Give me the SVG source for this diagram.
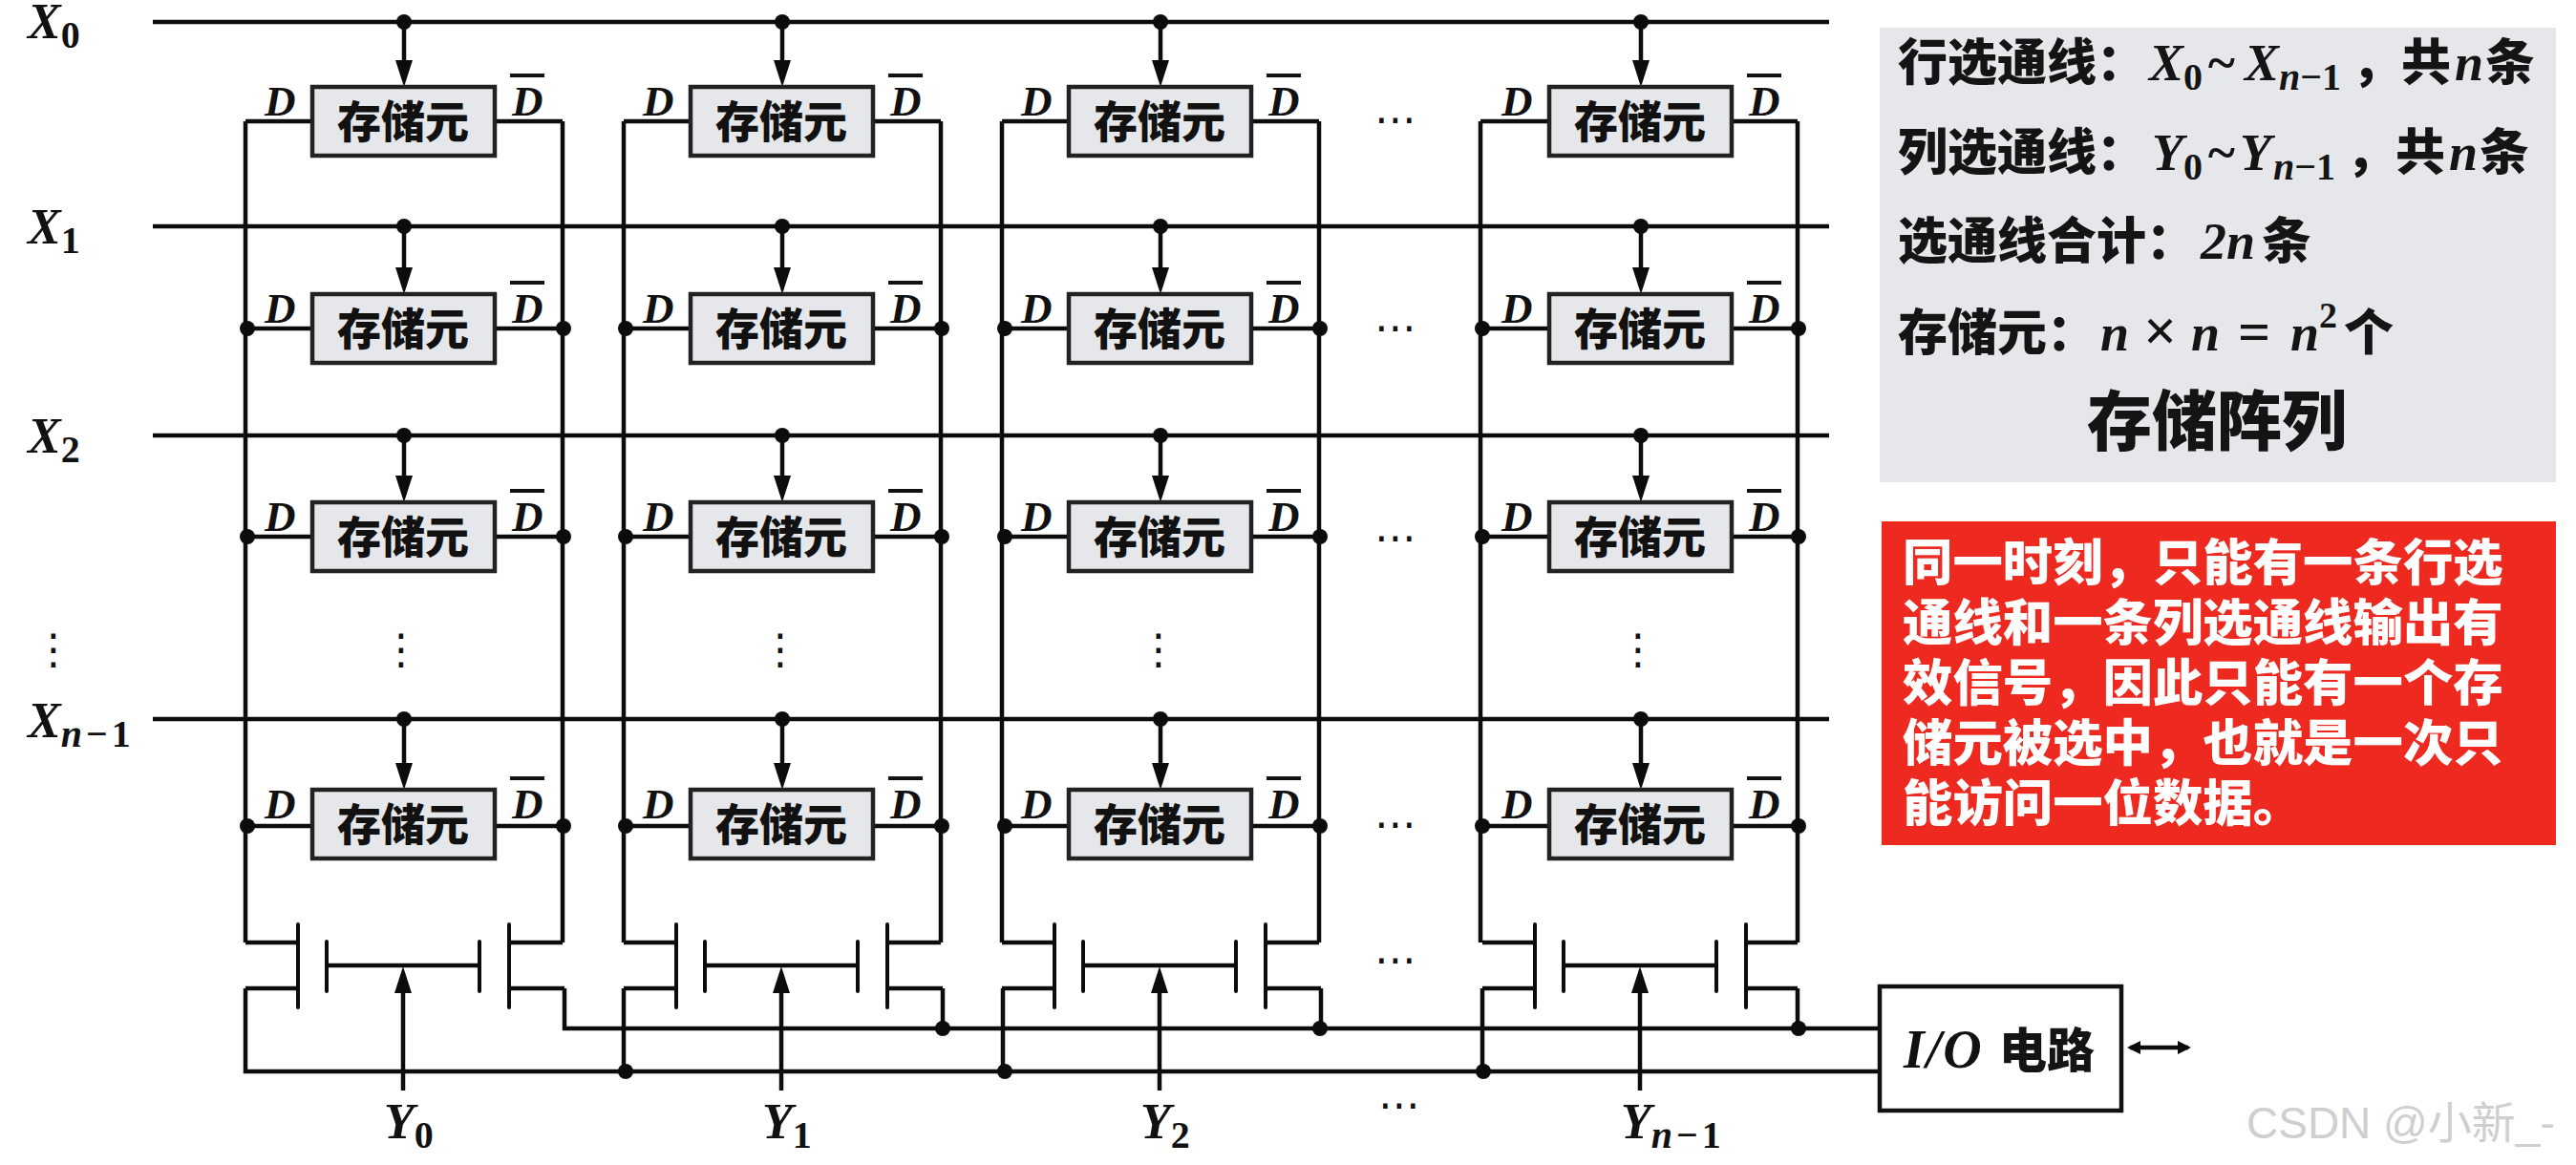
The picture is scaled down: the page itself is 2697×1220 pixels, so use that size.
<svg xmlns="http://www.w3.org/2000/svg" width="2697" height="1220" viewBox="0 0 2697 1220">
<style>
.w{fill:none;stroke:#0c0c0c;stroke-width:4.5}
.t{fill:none;stroke:#0c0c0c;stroke-width:4;stroke-linecap:round}
.cell{fill:#e6e7eb;stroke:#222;stroke-width:4.5}
.ct{font:900 46px "Noto Sans CJK SC",sans-serif;fill:#111;text-anchor:middle}
.m{font-family:"Liberation Serif",serif;font-weight:700;font-style:italic;fill:#111}
.b{font-size:52px}
.s{font-size:40px}
.sn{font-size:40px;letter-spacing:4px}
.u{font-style:normal}
.d{font-size:45px}
.dots{font:44px "DejaVu Sans",sans-serif;fill:#111;text-anchor:middle}
.zh{font:900 52px "Noto Sans CJK SC",sans-serif;fill:#141414}
.q{font-family:"Liberation Serif",serif;font-weight:700;font-style:italic;font-size:54px;fill:#141414}
.red{font:900 52.4px "Noto Sans CJK SC",sans-serif;fill:#fff}
</style>
<defs>
<marker id="a" markerUnits="userSpaceOnUse" markerWidth="28" markerHeight="18" refX="20" refY="9" orient="auto" viewBox="0 0 28 18"><path d="M0 0L28 9L0 18Z" fill="#0c0c0c"/></marker>
<marker id="sa" markerUnits="userSpaceOnUse" markerWidth="14" markerHeight="14" refX="11" refY="7" orient="auto-start-reverse" viewBox="0 0 14 14"><path d="M0 0L14 7L0 14Z" fill="#0c0c0c"/></marker>
<circle id="dot" r="8" fill="#0c0c0c"/>
<g id="cellT">
<rect class="cell" x="327" y="0" width="191" height="72"/>
<text class="ct" x="422" y="53">存储元</text>
<text class="m d" x="277" y="30">D</text>
<text class="m d" x="536" y="30">D</text>
<line x1="534" y1="-12" x2="570" y2="-12" stroke="#111" stroke-width="4"/>
</g>
<g id="xtor">
<path class="t" d="M312 968V1055M342 986V1038M502 986V1038M533 968V1055"/>
<path class="w" d="M342 1011H502M312 987H257M312 1035H257"/>
</g>
<g id="arrows">
<path class="w" d="M423 23V83" marker-end="url(#a)"/>
<path class="w" d="M423 237V300" marker-end="url(#a)"/>
<path class="w" d="M423 456V518" marker-end="url(#a)"/>
<path class="w" d="M423 753V819" marker-end="url(#a)"/>
<path class="w" d="M422 1142V1020" marker-end="url(#a)"/>
</g>
<g id="stubs">
<path class="w" d="M327 127H257M518 127H589M327 344H257M518 344H589M327 562H257M518 562H589M327 865H257M518 865H589"/>
</g>
</defs>
<rect width="2697" height="1220" fill="#fff"/>
<g id="connectors">
<g id="row-lines">
<path class="w" d="M160 23H1915M160 237H1915M160 456H1915M160 753H1915"/>
</g>
<g id="col-0"><path class="w" d="M257 127V987M589 127V987M533 987H589M533 1035H591"/><use href="#stubs"/><use href="#arrows"/><use href="#xtor"/></g>
<g id="col-1" transform="translate(396 0)"><path class="w" d="M257 127V987M589 127V987M533 987H589M533 1035H591"/><use href="#stubs"/><use href="#arrows"/><use href="#xtor"/></g>
<g id="col-2" transform="translate(792 0)"><path class="w" d="M257 127V987M589 127V987M533 987H589M533 1035H591"/><use href="#stubs"/><use href="#arrows"/><use href="#xtor"/></g>
<g id="col-3"><path class="w" d="M1550 127V987M1882 127V987M1828 987H1882M1828 1035H1882"/><use href="#stubs" transform="translate(1293 0)"/><use href="#arrows" transform="translate(1295 0)"/><use href="#xtor" transform="translate(1295 0)"/></g>
<g id="buses">
<path class="w" d="M591 1035V1077H1968M987 1035V1077M1383 1035V1077M1882 1035V1077"/>
<path class="w" d="M257 1035V1122H1968M653 1035V1122M1050 1035V1122M1552 1035V1122"/>
<path class="w" d="M2230 1097H2291" marker-start="url(#sa)" marker-end="url(#sa)"/>
</g>
<g id="junctions">
<use href="#dot" x="423" y="23"/><use href="#dot" x="819" y="23"/><use href="#dot" x="1215" y="23"/><use href="#dot" x="1718" y="23"/>
<use href="#dot" x="423" y="237"/><use href="#dot" x="819" y="237"/><use href="#dot" x="1215" y="237"/><use href="#dot" x="1718" y="237"/>
<use href="#dot" x="423" y="456"/><use href="#dot" x="819" y="456"/><use href="#dot" x="1215" y="456"/><use href="#dot" x="1718" y="456"/>
<use href="#dot" x="423" y="753"/><use href="#dot" x="819" y="753"/><use href="#dot" x="1215" y="753"/><use href="#dot" x="1718" y="753"/>
<g><use href="#dot" x="259" y="344"/><use href="#dot" x="590" y="344"/><use href="#dot" x="655" y="344"/><use href="#dot" x="986" y="344"/><use href="#dot" x="1052" y="344"/><use href="#dot" x="1382" y="344"/><use href="#dot" x="1552" y="344"/><use href="#dot" x="1883" y="344"/></g>
<g><use href="#dot" x="259" y="562"/><use href="#dot" x="590" y="562"/><use href="#dot" x="655" y="562"/><use href="#dot" x="986" y="562"/><use href="#dot" x="1052" y="562"/><use href="#dot" x="1382" y="562"/><use href="#dot" x="1552" y="562"/><use href="#dot" x="1883" y="562"/></g>
<g><use href="#dot" x="259" y="865"/><use href="#dot" x="590" y="865"/><use href="#dot" x="655" y="865"/><use href="#dot" x="986" y="865"/><use href="#dot" x="1052" y="865"/><use href="#dot" x="1382" y="865"/><use href="#dot" x="1552" y="865"/><use href="#dot" x="1883" y="865"/></g>
<use href="#dot" x="987" y="1077"/><use href="#dot" x="1382" y="1077"/><use href="#dot" x="1883" y="1077"/>
<use href="#dot" x="655" y="1122"/><use href="#dot" x="1052" y="1122"/><use href="#dot" x="1553" y="1122"/>
</g>
</g>
<g id="cells">
<g id="cell-0-0"><use href="#cellT" y="91"/></g><g id="cell-1-0"><use href="#cellT" x="396" y="91"/></g><g id="cell-2-0"><use href="#cellT" x="792" y="91"/></g><g id="cell-3-0"><use href="#cellT" x="1295" y="91"/></g>
<g id="cell-0-1"><use href="#cellT" y="308"/></g><g id="cell-1-1"><use href="#cellT" x="396" y="308"/></g><g id="cell-2-1"><use href="#cellT" x="792" y="308"/></g><g id="cell-3-1"><use href="#cellT" x="1295" y="308"/></g>
<g id="cell-0-2"><use href="#cellT" y="526"/></g><g id="cell-1-2"><use href="#cellT" x="396" y="526"/></g><g id="cell-2-2"><use href="#cellT" x="792" y="526"/></g><g id="cell-3-2"><use href="#cellT" x="1295" y="526"/></g>
<g id="cell-0-3"><use href="#cellT" y="827"/></g><g id="cell-1-3"><use href="#cellT" x="396" y="827"/></g><g id="cell-2-3"><use href="#cellT" x="792" y="827"/></g><g id="cell-3-3"><use href="#cellT" x="1295" y="827"/></g>
</g>
<g id="x-labels">
<text class="m b" x="29" y="40">X<tspan class="s u" dy="10">0</tspan></text>
<text class="m b" x="29" y="255">X<tspan class="s u" dy="10">1</tspan></text>
<text class="m b" x="29" y="474">X<tspan class="s u" dy="10">2</tspan></text>
<text class="m b" x="29" y="772">X<tspan class="sn" dy="10">n</tspan><tspan class="sn u">−1</tspan></text>
</g>
<g id="y-labels">
<text class="m b" x="402" y="1192">Y<tspan class="s u" dy="10">0</tspan></text>
<text class="m b" x="798" y="1192">Y<tspan class="s u" dy="10">1</tspan></text>
<text class="m b" x="1194" y="1192">Y<tspan class="s u" dy="10">2</tspan></text>
<text class="m b" x="1697" y="1192">Y<tspan class="sn" dy="10">n</tspan><tspan class="sn u">−1</tspan></text>
</g>
<g id="ellipses">
<text class="dots" x="1461" y="140">⋯</text><text class="dots" x="1461" y="358">⋯</text><text class="dots" x="1461" y="578">⋯</text><text class="dots" x="1461" y="878">⋯</text><text class="dots" x="1461" y="1020">⋯</text><text class="dots" x="1465" y="1172">⋯</text>
<text class="dots" x="56" y="695">⋮</text><text class="dots" x="420" y="695">⋮</text><text class="dots" x="817" y="695">⋮</text><text class="dots" x="1213" y="695">⋮</text><text class="dots" x="1715" y="695">⋮</text>
</g>
<g id="info">
<rect x="1968" y="29" width="708" height="476" fill="#e6e7eb"/>
<text class="zh" x="1987" y="84">行选通线：</text>
<text class="q" x="2250" y="84">X<tspan class="u" font-size="40" dy="10">0</tspan><tspan x="2310" dy="-10">~</tspan><tspan x="2350">X</tspan><tspan font-size="40" dy="10" x="2386">n</tspan><tspan class="u" font-size="40">−1</tspan></text>
<text class="zh" x="2462" y="84">，共</text>
<text class="q" x="2570" y="84">n</text>
<text class="zh" x="2602" y="84">条</text>
<text class="zh" x="1987" y="178">列选通线：</text>
<text class="q" x="2253" y="178">Y<tspan class="u" font-size="40" dy="10">0</tspan><tspan x="2310" dy="-10">~</tspan><tspan x="2345">Y</tspan><tspan font-size="40" dy="10" x="2380">n</tspan><tspan class="u" font-size="40">−1</tspan></text>
<text class="zh" x="2456" y="178">，共</text>
<text class="q" x="2564" y="178">n</text>
<text class="zh" x="2596" y="178">条</text>
<text class="zh" x="1987" y="271">选通线合计：</text>
<text class="q" x="2304" y="271">2n</text>
<text class="zh" x="2368" y="271">条</text>
<text class="zh" x="1987" y="367">存储元：</text>
<text class="q" x="2199" y="367">n<tspan x="2244" class="u" font-size="62">×</tspan><tspan x="2294">n</tspan><tspan x="2343" class="u" font-size="60">=</tspan><tspan x="2398">n</tspan><tspan class="u" font-size="38" dy="-24">2</tspan></text>
<text class="zh" x="2454" y="367">个</text>
<text class="zh" x="2185" y="466" style="font-size:68px">存储阵列</text>
</g>
<g id="note">
<rect x="1970" y="546" width="706" height="339" fill="#ee2a20"/>
<text class="red" x="1992" y="608">同一时刻，只能有一条行选</text>
<text class="red" x="1992" y="671">通线和一条列选通线输出有</text>
<text class="red" x="1992" y="734">效信号，因此只能有一个存</text>
<text class="red" x="1992" y="797">储元被选中，也就是一次只</text>
<text class="red" x="1992" y="860">能访问一位数据。</text>
</g>
<g id="io">
<rect x="1968" y="1033" width="253" height="130" fill="#fff" stroke="#111" stroke-width="4.5"/>
<text class="m" x="1993" y="1118" font-size="56" letter-spacing="2">I/O</text>
<text class="zh" x="2093" y="1118" style="font-size:50px">电路</text>
</g>
<text id="watermark" x="2352" y="1192" font-family="Liberation Sans,Noto Sans CJK SC,sans-serif" font-size="46" fill="#cfcfcf">CSDN @小新_-</text>
</svg>
